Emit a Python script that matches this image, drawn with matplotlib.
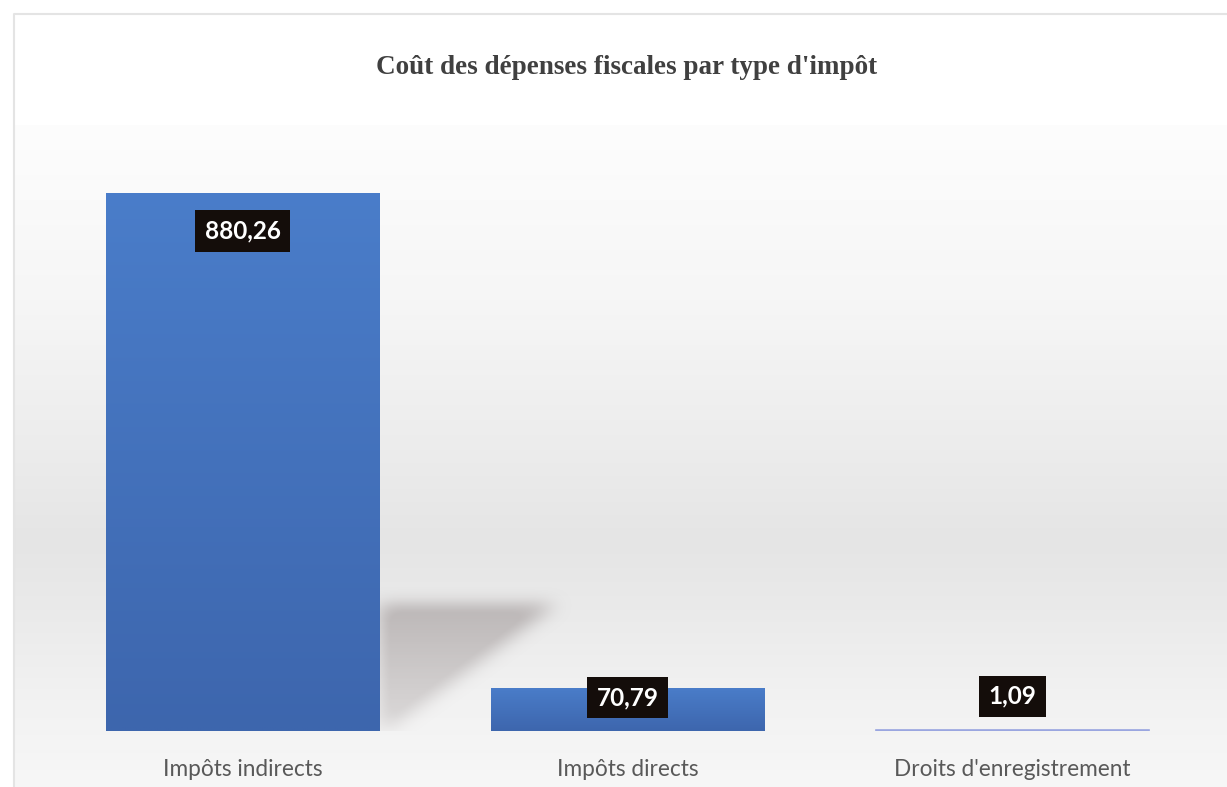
import numpy as np
import matplotlib
matplotlib.use("Agg")
import matplotlib.pyplot as plt
from matplotlib.path import Path

# Data
categories = ["Impôts indirects", "Impôts directs", "Droits d'enregistrement"]
values = [880.26, 70.79, 1.09]
value_labels = ["880,26", "70,79", "1,09"]
title = "Coût des dépenses fiscales par type d'impôt"

W, H, DPI = 1227, 787, 100
fig = plt.figure(figsize=(W / DPI, H / DPI), dpi=DPI)
fig.patch.set_facecolor("white")

# Background: chart-area frame and soft vertical gray gradient
bg = fig.add_axes([0, 0, 1, 1], zorder=0)
bg.set_xlim(0, W)
bg.set_ylim(H, 0)
bg.axis("off")
stops_y = np.array([0, 125, 300, 450, 540, 610, 700, 787])
stops_v = np.array([255, 253, 246, 236, 229, 234, 242, 247]) / 255.0
ys = np.arange(125, H)
col = np.interp(ys, stops_y, stops_v)
grad = np.repeat(col[:, None], 2, axis=1)
bg.imshow(np.dstack([grad, grad, grad]), extent=[14, W, H, 125],
          aspect="auto", interpolation="bilinear")
bg.plot([14, 14, W], [H, 14, 14], color="#e4e4e4", lw=1.5)

# Plot axes
x0, x1 = 50, 1205
ybase, ytop = 731, 120
ax = fig.add_axes([x0 / W, 1 - ybase / H, (x1 - x0) / W, (ybase - ytop) / H], zorder=1)
ax.patch.set_alpha(0)
for s in ax.spines.values():
    s.set_visible(False)
ax.set_yticks([])
ax.set_xticks(range(len(categories)))
ax.set_xticklabels(categories, fontfamily="Lato", fontsize=16.3, color="#595959")
ax.tick_params(axis="x", length=0, pad=20)

bar_w = 0.71
xs = np.arange(len(categories))
bars = ax.bar(xs, values, width=bar_w, color="#4472c4", zorder=3)

# Vertical shading inside each bar
shade = np.linspace(0, 1, 64)[:, None]
top_c = np.array([0.29, 0.49, 0.79])
bot_c = np.array([0.24, 0.40, 0.68])
shade_img = top_c[None, None, :] * (1 - shade[..., None]) + bot_c[None, None, :] * shade[..., None]
shade_img = np.repeat(shade_img, 2, axis=1)
for b in bars:
    bx, bw, bh = b.get_x(), b.get_width(), b.get_height()
    if bh < 5:
        b.set_color("#9aa6e0")
        b.set_edgecolor("#9aa6e0")
        b.set_linewidth(1.2)
        continue
    im = ax.imshow(shade_img, extent=[bx, bx + bw, 0, bh], aspect="auto",
                   interpolation="bilinear", zorder=3.5)
    im.set_clip_path(b)

# Soft drop shadow cast by the tallest bar
b0 = bars[0]
sx = b0.get_x() + b0.get_width()
sh = b0.get_height() * 0.235
poly = Path([(sx, 0), (sx, sh), (sx + 0.46, sh), (sx + 0.02, 0), (sx, 0)])
gx = np.linspace(sx - 0.15, sx + 0.75, 350)
gy = np.linspace(-50, sh + 80, 260)
GX, GY = np.meshgrid(gx, gy)
mask = poly.contains_points(np.c_[GX.ravel(), GY.ravel()]).reshape(GX.shape).astype(float)
k = np.ones(19) / 19
for _ in range(3):
    mask = np.apply_along_axis(lambda r: np.convolve(r, k, mode="same"), 1, mask)
    mask = np.apply_along_axis(lambda c: np.convolve(c, k, mode="same"), 0, mask)
fade = np.clip(0.45 + 0.55 * (GY / sh), 0.25, 1.0)
rgba = np.zeros(mask.shape + (4,))
rgba[..., :3] = np.array([0.62, 0.59, 0.59])
rgba[..., 3] = np.clip(mask * 1.15, 0, 1) * 0.6 * fade
ax.imshow(rgba, extent=[gx[0], gx[-1], gy[0], gy[-1]], origin="lower",
          aspect="auto", interpolation="bilinear", zorder=2)
ax.set_xlim(-0.5, len(categories) - 0.5)
ax.set_ylim(0, 1000)

# Value labels in dark boxes
label_offsets = [-38, -10, 34]
for xi, v, lab, off in zip(xs, values, value_labels, label_offsets):
    ax.annotate(lab, (xi, v), xytext=(0, off), textcoords="offset pixels",
                ha="center", va="center", fontfamily="Lato", fontweight="bold",
                fontsize=17.5, color="white", zorder=5,
                bbox=dict(boxstyle="square,pad=0.38", fc="#140d0a", ec="none"))

fig.text(627 / W, 1 - 67 / H, title, ha="center", va="center",
         fontfamily="Liberation Serif", fontweight="bold", fontsize=19.5, color="#404040")

fig.savefig("out.png", dpi=DPI, facecolor="white")
